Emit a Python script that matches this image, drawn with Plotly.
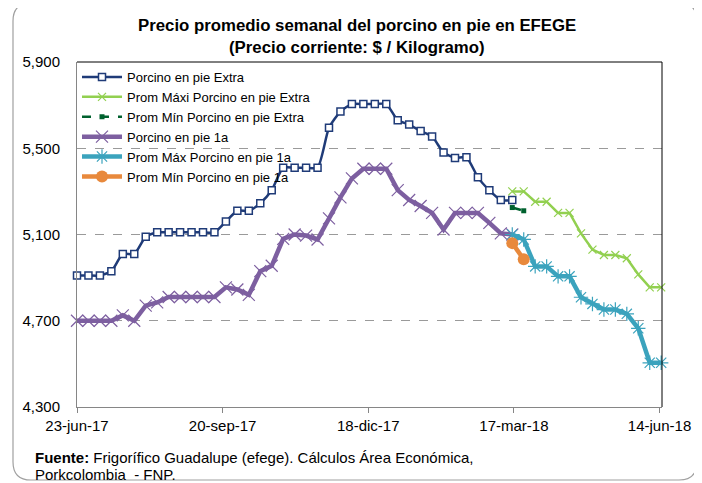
import pandas as pd
import plotly.graph_objects as go

# semanas (eje de fechas)
fechas = pd.date_range("2017-06-23", periods=52, freq="7D")

# Porcino en pie Extra (semanas 0-38)
extra = [4910, 4910, 4910, 4930, 5010, 5010, 5090, 5110, 5110, 5110,
         5110, 5110, 5110, 5160, 5210, 5210, 5245, 5305, 5410, 5410,
         5410, 5410, 5595, 5670, 5705, 5705, 5705, 5705, 5630, 5610,
         5580, 5555, 5480, 5455, 5458, 5365, 5305, 5260, 5260]
# Prom Maxi Porcino en pie Extra (semanas 38-51)
max_extra = [5300, 5300, 5252, 5252, 5200, 5200, 5105, 5030, 5005, 5005,
             4990, 4915, 4855, 4855]
# Prom Min Porcino en pie Extra (semanas 38-39)
min_extra = [5225, 5210]
# Porcino en pie 1a (semanas 0-38)
pie_1a = [4700, 4700, 4700, 4700, 4725, 4700, 4770, 4785, 4810, 4810,
          4810, 4810, 4810, 4855, 4845, 4820, 4930, 4955, 5080, 5100,
          5095, 5077, 5175, 5272, 5360, 5405, 5405, 5405, 5306, 5260,
          5232, 5200, 5123, 5200, 5200, 5200, 5154, 5105, 5100]
# Prom Max Porcino en pie 1a (semanas 38-51)
max_1a = [5100, 5077, 4952, 4952, 4906, 4906, 4809, 4778, 4752, 4752,
          4732, 4665, 4505, 4505]
# Prom Min Porcino en pie 1a (semanas 38-39)
min_1a = [5060, 4985]

tick_fechas = ["2017-06-23", "2017-09-20", "2017-12-18", "2018-03-17", "2018-06-14"]
tick_textos = ["23-jun-17", "20-sep-17", "18-dic-17", "17-mar-18", "14-jun-18"]
y_ticks = [4300, 4700, 5100, 5500, 5900]

# la pagina deja 8px de margen alrededor de la figura
OFF = 8
W, H = 702 - OFF, 483 - OFF
L, R, T, B = 77 - OFF, 662 - OFF, 62 - OFF, 407 - OFF


def px(x):
    return (x - OFF - L) / (R - L)


def py(y):
    return (B - (y - OFF)) / (B - T)


fig = go.Figure()
fig.add_trace(go.Scatter(
    x=fechas[:39], y=extra, name="Porcino en pie Extra", mode="lines+markers",
    line=dict(color="#1f3b78", width=2.5, shape="spline", smoothing=0.6),
    marker=dict(symbol="square", size=7, color="white", line=dict(color="#1f3b78", width=1.5)),
    cliponaxis=False))
fig.add_trace(go.Scatter(
    x=fechas[38:], y=max_extra, name="Prom Máxi Porcino en pie Extra", mode="lines+markers",
    line=dict(color="#92d050", width=2.5),
    marker=dict(symbol="x-thin-open", size=8, line=dict(color="#92d050", width=1.2)),
    cliponaxis=False))
fig.add_trace(go.Scatter(
    x=fechas[38:40], y=min_extra, name="Prom Mín Porcino en pie Extra", mode="lines+markers",
    line=dict(color="#00612e", width=2.5, dash="dash"),
    marker=dict(symbol="square", size=5, color="#00612e"),
    cliponaxis=False))
fig.add_trace(go.Scatter(
    x=fechas[:39], y=pie_1a, name="Porcino en pie 1a", mode="lines+markers",
    line=dict(color="#7d5fa0", width=4.5),
    marker=dict(symbol="x-thin-open", size=12, line=dict(color="#a590c4", width=1.2)),
    cliponaxis=False))
fig.add_trace(go.Scatter(
    x=fechas[38:], y=max_1a, name="Prom Máx Porcino en pie 1a", mode="lines+markers",
    line=dict(color="#3ba3bd", width=4.5),
    marker=dict(symbol="asterisk-open", size=12, line=dict(color="#62bcd6", width=1.2)),
    cliponaxis=False))
fig.add_trace(go.Scatter(
    x=fechas[38:40], y=min_1a, name="Prom Mín Porcino en pie 1a", mode="lines+markers",
    line=dict(color="#e8893c", width=4.5),
    marker=dict(symbol="circle", size=12, color="#e8893c"),
    cliponaxis=False))

# marco redondeado exterior
x0, y0, x1, y1, rr = 13, 3, 697, 480, 18
pts = [("M", x0 + rr, y0), ("L", x1 - rr, y0), ("Q", x1, y0, x1, y0 + rr),
       ("L", x1, y1 - rr), ("Q", x1, y1, x1 - rr, y1), ("L", x0 + rr, y1),
       ("Q", x0, y1, x0, y1 - rr), ("L", x0, y0 + rr), ("Q", x0, y0, x0 + rr, y0)]
path = ""
for p in pts:
    cmd, coords = p[0], p[1:]
    xy = []
    for i in range(0, len(coords), 2):
        xy.append(f"{px(coords[i]):.5f},{py(coords[i + 1]):.5f}")
    path += cmd + " " + " ".join(xy) + " "
path += "Z"

fig.add_shape(type="path", path=path, xref="paper", yref="paper",
              line=dict(color="#a0a0a0", width=1.2), layer="below")
# borde superior y derecho del area de trazado
fig.add_shape(type="line", xref="paper", yref="paper", x0=0, x1=1, y0=1, y1=1,
              line=dict(color="black", width=1))
fig.add_shape(type="line", xref="paper", yref="paper", x0=1, x1=1, y0=0, y1=1,
              line=dict(color="black", width=1))

fig.add_annotation(text="<b>Precio promedio semanal del porcino en pie en EFEGE</b>",
                   xref="paper", yref="paper", x=px(356.5), y=py(25),
                   xanchor="center", yanchor="middle", showarrow=False,
                   font=dict(size=16.8, color="black"))
fig.add_annotation(text="<b>(Precio corriente: $ / Kilogramo)</b>",
                   xref="paper", yref="paper", x=px(356.5), y=py(47),
                   xanchor="center", yanchor="middle", showarrow=False,
                   font=dict(size=16.8, color="black"))
fig.add_annotation(text="<b>Fuente:</b> Frigorífico Guadalupe (efege). Cálculos Área Económica,",
                   xref="paper", yref="paper", x=px(33), y=py(457.5),
                   xanchor="left", yanchor="middle", align="left", showarrow=False,
                   font=dict(size=15, color="black"))
fig.add_annotation(text="Porkcolombia  - FNP.",
                   xref="paper", yref="paper", x=px(33), y=py(474),
                   xanchor="left", yanchor="middle", align="left", showarrow=False,
                   font=dict(size=15, color="black"))

fig.update_layout(
    width=W, height=H,
    margin=dict(l=L, r=W - R, t=T, b=H - B),
    paper_bgcolor="white", plot_bgcolor="white",
    font=dict(family="Arial, Liberation Sans, sans-serif", color="black"),
    showlegend=True,
    legend=dict(x=0.0, y=1.0, xanchor="left", yanchor="top",
                bgcolor="rgba(0,0,0,0)", font=dict(size=13),
                itemwidth=40, tracegroupgap=0, itemclick=False),
)
fig.update_xaxes(type="date", range=["2017-06-23", "2018-06-15 12:00"],
                 tickvals=tick_fechas, ticktext=tick_textos,
                 tickfont=dict(size=15), showgrid=False, zeroline=False,
                 showline=True, linecolor="#868686", linewidth=1,
                 ticks="outside", ticklen=5, tickcolor="#868686")
fig.update_yaxes(range=[4300, 5900], tickvals=y_ticks, tickformat=",d",
                 tickfont=dict(size=15), showgrid=True, gridcolor="#9a9a9a",
                 griddash="dash", gridwidth=1, zeroline=False,
                 showline=True, linecolor="#868686", linewidth=1,
                 ticks="", ticklabelstandoff=13)

fig.write_html("out.html")
